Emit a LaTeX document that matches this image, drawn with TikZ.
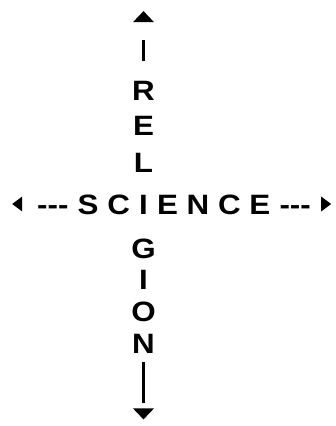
\documentclass[tikz,border=0pt]{standalone}
\usepackage{fontspec}
\newfontfamily\crossfont[FakeStretch=1.12]{Liberation Sans}
\usetikzlibrary{positioning, calc}

\begin{document}
\begin{tikzpicture}[
    x=0.75pt, y=0.75pt,
    node distance=6.5pt,
    letter/.style={
        font=\crossfont\bfseries\fontsize{21}{25}\selectfont,
        inner sep=0pt,
        text height=15pt,
        text depth=0pt
    },
    tip/.style={
        inner sep=0pt,
        outer sep=0pt
    },
    tipup/.style={
        tip,
        minimum width=15.75pt,
        minimum height=8.25pt,
        path picture={\fill (path picture bounding box.south west) -- (path picture bounding box.south east) -- (path picture bounding box.north) -- cycle;}
    },
    tipdown/.style={
        tip,
        minimum width=15.75pt,
        minimum height=8.25pt,
        path picture={\fill (path picture bounding box.north west) -- (path picture bounding box.north east) -- (path picture bounding box.south) -- cycle;}
    },
    tipleft/.style={
        tip,
        minimum width=7.5pt,
        minimum height=11.25pt,
        path picture={\fill (path picture bounding box.north east) -- (path picture bounding box.south east) -- (path picture bounding box.west) -- cycle;}
    },
    tipright/.style={
        tip,
        minimum width=7.5pt,
        minimum height=11.25pt,
        path picture={\fill (path picture bounding box.north west) -- (path picture bounding box.south west) -- (path picture bounding box.east) -- cycle;}
    },
    bar/.style={
        line width=1.6pt
    }
]
    \useasboundingbox (0,0) rectangle (336,-426);

    % shared letter
    \node[letter] (ci) at (143.5,-204) {I};

    % RELIGION
    \node[letter, above=15.75pt of ci] (cl) {L};
    \node[letter, above=12pt of cl] (ce) {E};
    \node[letter, above=11.25pt of ce] (cr) {R};
    \node[letter, below=18pt of ci] (cg) {G};
    \node[letter, below=7.5pt of cg] (cgi) {I};
    \node[letter, below=9pt of cgi] (co) {O};
    \node[letter, below=8.25pt of co] (cn) {N};

    % SCIENCE
    \node[letter, left=of ci] (sc) {S C};
    \node[letter, right=of ci] (ence) {E N C E};
    \node[letter, left=of sc] (ldash) {\mbox{-}\mbox{-}\mbox{-}};
    \node[letter, right=of ence] (rdash) {\mbox{-}\mbox{-}\mbox{-}};

    % arrow heads
    \node[tipup, above=43.5pt of cr] (up) {};
    \node[tipdown, below=41.25pt of cn] (down) {};
    \node[tipleft, left=11pt of ldash] (lt) {};
    \node[tipright, right=7.5pt of rdash] (rt) {};

    % bars
    \draw[bar, shorten <=14.25pt, shorten >=13.5pt] (cr) -- (up);
    \draw[bar, shorten <=6.75pt, shorten >=3.75pt] (cn) -- (down);

\end{tikzpicture}
\end{document}
